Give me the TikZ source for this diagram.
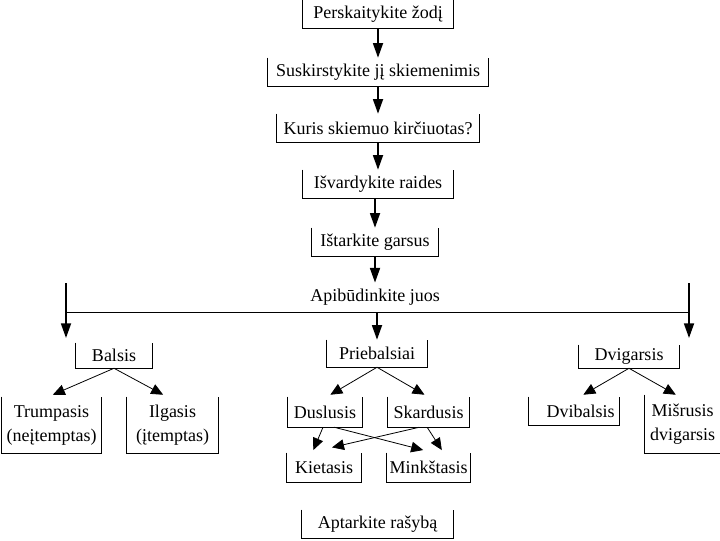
\documentclass[tikz,border=0pt]{standalone}
\usepackage{fontspec}
\setmainfont{Liberation Serif}
\usetikzlibrary{arrows.meta}
\begin{document}
\begin{tikzpicture}[x=0.75pt,y=-0.75pt,draw=black!100]
	\fontsize{13.5}{18}\selectfont
	\tikzstyle{box}=[inner sep=2pt,align=center]
	\tikzstyle{main}=[-{Triangle[width=7.5pt,length=11pt]},line width=1.3pt]
	\tikzstyle{sub}=[-{Triangle[width=8pt,length=9pt]},line width=0.6pt]
	\tikzstyle{cup}=[line width=0.75pt]

	\def \rowtop{397}
	\def \rowmid{412}

	\useasboundingbox (0,0) rectangle (720,540);

	% main chain
	\node[box,minimum width=112.5pt,minimum height=21pt]	(perskait)	at (378,14)	{Perskaitykite žodį};
	\node[box,minimum width=165.75pt,minimum height=21pt]	(suskirst)	at (378,72)	{Suskirstykite jį skiemenimis};
	\node[box,minimum width=151.5pt,minimum height=21pt]	(kuris)		at (378,128)	{Kuris skiemuo kirčiuotas?};
	\node[box,minimum width=112.5pt,minimum height=21pt]	(isvard)	at (378,184)	{Išvardykite raides};
	\node[box,minimum width=94.5pt,minimum height=21pt]	(istark)	at (375,242)	{Ištarkite garsus};
	\node					(apib)		at (375,297)	{Apibūdinkite juos};

	% groups
	\node[box,minimum width=57pt,minimum height=18.75pt]	(balsis)	at (114,355.5)	{Balsis};
	\node[box,minimum width=75pt,minimum height=20.25pt]	(priebal)	at (377,353.5)	{Priebalsiai};
	\node[box,minimum width=75pt,minimum height=17.25pt]	(dvigars)	at (629,356.5)	{Dvigarsis};

	\node[box,minimum width=74.25pt,minimum height=42pt]	(trump)		at (51.5,425)	{Trumpasis\\(neįtemptas)};
	\node[box,minimum width=68.25pt,minimum height=42pt]	(ilgas)		at (172.5,425)	{Ilgasis\\(įtemptas)};

	\node[box,minimum width=55.5pt,minimum height=22.5pt]	(dusl)		at (325,\rowmid)	{Duslusis};
	\node[box,minimum width=60.75pt,minimum height=22.5pt]	(skard)		at (428.5,\rowmid)	{Skardusis};
	\node[box,minimum width=55.5pt,minimum height=21.75pt]	(kiet)		at (324,467.5)	{Kietasis};
	\node[box,minimum width=60.75pt,minimum height=21.75pt]	(mink)		at (428.5,467.5)	{Minkštasis};
	\node[box,minimum width=113.25pt,minimum height=21pt]	(aptark)	at (377.5,524)	{Aptarkite rašybą};

	\node[box,minimum width=67.5pt,minimum height=21pt]	(dvibal)	at (574,411)	{\hspace*{10pt}Dvibalsis};
	\node[box,minimum width=56.25pt,minimum height=43.5pt]	(misr)		at (682.5,424)	{Mišrusis\\dvigarsis};

	% open-top frames
	\foreach \n in {perskait,suskirst,kuris,isvard,istark,balsis,priebal,dvigars,trump,ilgas,dusl,skard,kiet,mink,aptark,dvibal,misr}
		\draw[cup] (\n.north west) |- (\n.south east) -- (\n.north east);

	\draw[main] (perskait.south) -- (suskirst.north);
	\draw[main] (suskirst.south) -- (kuris.north);
	\draw[main] (kuris.south) -- (isvard.north);
	\draw[main] (istark.north |- isvard.south) -- (istark.north);
	\draw[main] (istark.south) -- (apib.north);

	\coordinate (lt) at (66,283);
	\coordinate (ll) at (66,312);
	\coordinate (lb) at (66,338);
	\coordinate (rt) at (689,283);
	\coordinate (rl) at (689,312);
	\coordinate (rb) at (689,338);
	\coordinate (mid) at (377,312);

	\draw[cup] (ll) -- (rl);
	\draw[main] (lt) -- (lb);
	\draw[main] (rt) -- (rb);
	\draw[main] (mid) -- (priebal.north);

	\draw[sub] (balsis.south) -- ([xshift=1pt,yshift=1.5pt]trump.north);
	\draw[sub] (balsis.south) -- ([xshift=-7pt,yshift=1.5pt]ilgas.north);
	\draw[sub] (priebal.south) -- ([xshift=4pt,yshift=1.5pt]dusl.north);
	\draw[sub] (priebal.south) -- ([xshift=-3pt,yshift=1.5pt]skard.north);
	\draw[sub] (dvigars.south) -- ([xshift=7pt,yshift=1.5pt]dvibal.north);
	\draw[sub] (dvigars.south) -- ([xshift=-5pt]misr.north);

	\draw[sub] ([xshift=-1.5pt]dusl.south) -- ([xshift=-8pt,yshift=2pt]kiet.north);
	\draw[sub] ([xshift=7pt]dusl.south) -- ([xshift=-4pt,yshift=2pt]mink.north);
	\draw[sub] ([xshift=-7pt]skard.south) -- ([xshift=6pt,yshift=4pt]kiet.north);
	\draw[sub] ([xshift=-1pt]skard.south) -- ([xshift=10pt,yshift=2pt]mink.north);
\end{tikzpicture}
\end{document}
